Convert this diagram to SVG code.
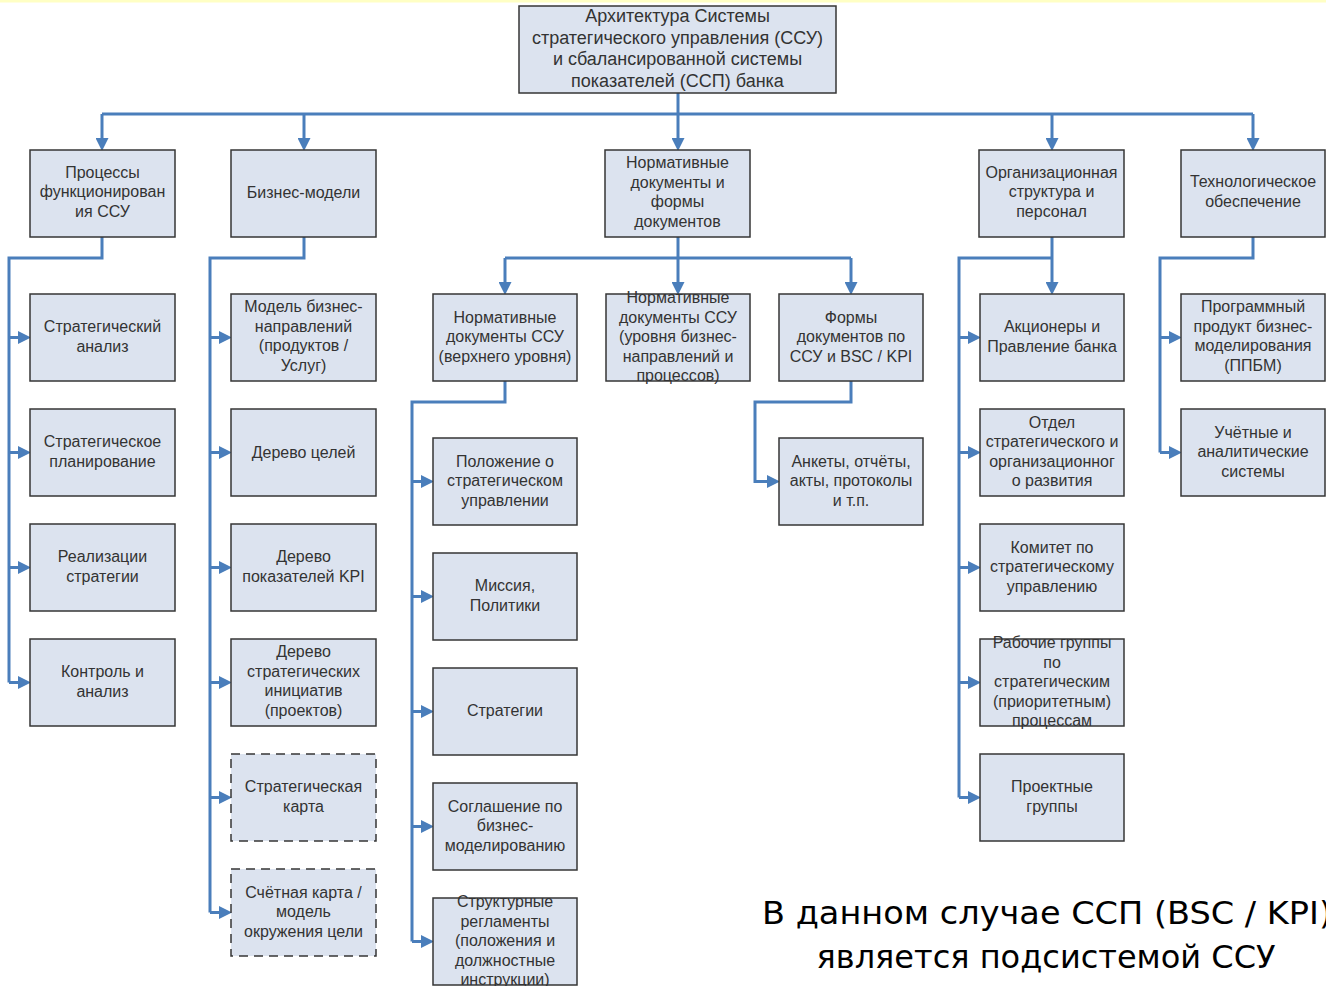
<svg xmlns="http://www.w3.org/2000/svg" width="1326" height="986" viewBox="0 0 1326 986">
  <style>
    .box { fill: #dce3ef; stroke: #363636; stroke-width: 1.5; }
    .dash { stroke-dasharray: 9 6; }
    .lbl { font-family: "Liberation Sans", Arial, sans-serif; font-size: 16px; fill: #333; text-anchor: middle; }
    .ttl { font-family: "Liberation Sans", Arial, sans-serif; font-size: 18px; fill: #333; text-anchor: middle; }
    .link { fill: none; stroke: #4a7ebb; stroke-width: 3; }
    .note { font-family: "DejaVu Sans", Tahoma, sans-serif; font-size: 32px; fill: #000; }
  </style>
  <defs>
    <marker id="arr" viewBox="0 0 13 13" refX="6" refY="6.5" markerWidth="13" markerHeight="13" markerUnits="userSpaceOnUse" orient="auto">
      <path d="M0,0 L13,6.5 L0,13 z" fill="#4a7ebb"/>
    </marker>
  </defs>

  <rect x="0" y="0" width="1326" height="986" fill="#fff"/>
  <rect x="0" y="0" width="1326" height="2.5" fill="#ffffc4"/>

  <!-- connectors -->
  <g id="connectors">
    <!-- top level bus -->
    <path class="link" d="M102 114 H1253"/>
    <path class="link" d="M678 93 V144" marker-end="url(#arr)"/>
    <path class="link" d="M102 114 V144" marker-end="url(#arr)"/>
    <path class="link" d="M304 114 V144" marker-end="url(#arr)"/>
    <path class="link" d="M1052 114 V144" marker-end="url(#arr)"/>
    <path class="link" d="M1253 114 V144" marker-end="url(#arr)"/>

    <!-- processes -->
    <path class="link" d="M102 237 V258 H9 V682.5"/>
    <path class="link" d="M9 337.5 H24" marker-end="url(#arr)"/>
    <path class="link" d="M9 452.5 H24" marker-end="url(#arr)"/>
    <path class="link" d="M9 567.5 H24" marker-end="url(#arr)"/>
    <path class="link" d="M9 682.5 H24" marker-end="url(#arr)"/>

    <!-- business models -->
    <path class="link" d="M304 237 V258 H210 V912.5"/>
    <path class="link" d="M210 337.5 H225" marker-end="url(#arr)"/>
    <path class="link" d="M210 452.5 H225" marker-end="url(#arr)"/>
    <path class="link" d="M210 567.5 H225" marker-end="url(#arr)"/>
    <path class="link" d="M210 682.5 H225" marker-end="url(#arr)"/>
    <path class="link" d="M210 797.5 H225" marker-end="url(#arr)"/>
    <path class="link" d="M210 912.5 H225" marker-end="url(#arr)"/>

    <!-- normative documents -->
    <path class="link" d="M678 237 V288" marker-end="url(#arr)"/>
    <path class="link" d="M505 258 H851"/>
    <path class="link" d="M505 258 V288" marker-end="url(#arr)"/>
    <path class="link" d="M851 258 V288" marker-end="url(#arr)"/>

    <path class="link" d="M505 381 V402 H412 V941.5"/>
    <path class="link" d="M412 481.5 H427" marker-end="url(#arr)"/>
    <path class="link" d="M412 596.5 H427" marker-end="url(#arr)"/>
    <path class="link" d="M412 711.5 H427" marker-end="url(#arr)"/>
    <path class="link" d="M412 826.5 H427" marker-end="url(#arr)"/>
    <path class="link" d="M412 941.5 H427" marker-end="url(#arr)"/>

    <path class="link" d="M851 381 V402 H755 V481.5 H773" marker-end="url(#arr)"/>

    <!-- organisation -->
    <path class="link" d="M1052 237 V288" marker-end="url(#arr)"/>
    <path class="link" d="M1052 258 H959 V797.5"/>
    <path class="link" d="M959 337.5 H974" marker-end="url(#arr)"/>
    <path class="link" d="M959 452.5 H974" marker-end="url(#arr)"/>
    <path class="link" d="M959 567.5 H974" marker-end="url(#arr)"/>
    <path class="link" d="M959 682.5 H974" marker-end="url(#arr)"/>
    <path class="link" d="M959 797.5 H974" marker-end="url(#arr)"/>

    <!-- technology -->
    <path class="link" d="M1253 237 V258 H1160 V452.5"/>
    <path class="link" d="M1160 337.5 H1175" marker-end="url(#arr)"/>
    <path class="link" d="M1160 452.5 H1175" marker-end="url(#arr)"/>
  </g>

  <!-- root -->
  <g id="n-root">
    <rect class="box" x="519" y="6" width="317" height="87"/>
    <text class="ttl" x="677.5" y="22">Архитектура Системы<tspan x="677.5" dy="21.6">стратегического управления (ССУ)</tspan><tspan x="677.5" dy="21.6">и сбалансированной системы</tspan><tspan x="677.5" dy="21.6">показателей (ССП) банка</tspan></text>
  </g>

  <!-- first level -->
  <g id="n-processes">
    <rect class="box" x="30" y="150" width="145" height="87"/>
    <text class="lbl" x="102.5" y="177.5">Процессы<tspan x="102.5" dy="19.5">функционирован</tspan><tspan x="102.5" dy="19.5">ия ССУ</tspan></text>
  </g>
  <g id="n-business-models">
    <rect class="box" x="231" y="150" width="145" height="87"/>
    <text class="lbl" x="303.5" y="197.5">Бизнес-модели</text>
  </g>
  <g id="n-normative">
    <rect class="box" x="605" y="150" width="145" height="87"/>
    <text class="lbl" x="677.5" y="168">Нормативные<tspan x="677.5" dy="19.5">документы и</tspan><tspan x="677.5" dy="19.5">формы</tspan><tspan x="677.5" dy="19.5">документов</tspan></text>
  </g>
  <g id="n-organisation">
    <rect class="box" x="979" y="150" width="145" height="87"/>
    <text class="lbl" x="1051.5" y="177.5">Организационная<tspan x="1051.5" dy="19.5">структура и</tspan><tspan x="1051.5" dy="19.5">персонал</tspan></text>
  </g>
  <g id="n-technology">
    <rect class="box" x="1181" y="150" width="144" height="87"/>
    <text class="lbl" x="1253" y="187">Технологическое<tspan x="1253" dy="19.5">обеспечение</tspan></text>
  </g>

  <!-- processes children -->
  <g id="n-strat-analysis">
    <rect class="box" x="30" y="294" width="145" height="87"/>
    <text class="lbl" x="102.5" y="332">Стратегический<tspan x="102.5" dy="19.5">анализ</tspan></text>
  </g>
  <g id="n-strat-planning">
    <rect class="box" x="30" y="409" width="145" height="87"/>
    <text class="lbl" x="102.5" y="447">Стратегическое<tspan x="102.5" dy="19.5">планирование</tspan></text>
  </g>
  <g id="n-strat-impl">
    <rect class="box" x="30" y="524" width="145" height="87"/>
    <text class="lbl" x="102.5" y="562">Реализации<tspan x="102.5" dy="19.5">стратегии</tspan></text>
  </g>
  <g id="n-control">
    <rect class="box" x="30" y="639" width="145" height="87"/>
    <text class="lbl" x="102.5" y="677">Контроль и<tspan x="102.5" dy="19.5">анализ</tspan></text>
  </g>

  <!-- business model children -->
  <g id="n-bm-directions">
    <rect class="box" x="231" y="294" width="145" height="87"/>
    <text class="lbl" x="303.5" y="312">Модель бизнес-<tspan x="303.5" dy="19.5">направлений</tspan><tspan x="303.5" dy="19.5">(продуктов /</tspan><tspan x="303.5" dy="19.5">Услуг)</tspan></text>
  </g>
  <g id="n-goal-tree">
    <rect class="box" x="231" y="409" width="145" height="87"/>
    <text class="lbl" x="303.5" y="457.5">Дерево целей</text>
  </g>
  <g id="n-kpi-tree">
    <rect class="box" x="231" y="524" width="145" height="87"/>
    <text class="lbl" x="303.5" y="562">Дерево<tspan x="303.5" dy="19.5">показателей KPI</tspan></text>
  </g>
  <g id="n-initiatives-tree">
    <rect class="box" x="231" y="639" width="145" height="87"/>
    <text class="lbl" x="303.5" y="657">Дерево<tspan x="303.5" dy="19.5">стратегических</tspan><tspan x="303.5" dy="19.5">инициатив</tspan><tspan x="303.5" dy="19.5">(проектов)</tspan></text>
  </g>
  <g id="n-strat-map">
    <rect class="box dash" x="231" y="754" width="145" height="87"/>
    <text class="lbl" x="303.5" y="792">Стратегическая<tspan x="303.5" dy="19.5">карта</tspan></text>
  </g>
  <g id="n-scorecard">
    <rect class="box dash" x="231" y="869" width="145" height="87"/>
    <text class="lbl" x="303.5" y="897.5">Счётная карта /<tspan x="303.5" dy="19.5">модель</tspan><tspan x="303.5" dy="19.5">окружения цели</tspan></text>
  </g>

  <!-- normative documents children -->
  <g id="n-norm-top">
    <rect class="box" x="433" y="294" width="144" height="87"/>
    <text class="lbl" x="505" y="322.5">Нормативные<tspan x="505" dy="19.5">документы ССУ</tspan><tspan x="505" dy="19.5">(верхнего уровня)</tspan></text>
  </g>
  <g id="n-norm-business">
    <rect class="box" x="606" y="294" width="144" height="87"/>
    <text class="lbl" x="678" y="303">Нормативные<tspan x="678" dy="19.5">документы ССУ</tspan><tspan x="678" dy="19.5">(уровня бизнес-</tspan><tspan x="678" dy="19.5">направлений и</tspan><tspan x="678" dy="19.5">процессов)</tspan></text>
  </g>
  <g id="n-forms">
    <rect class="box" x="779" y="294" width="144" height="87"/>
    <text class="lbl" x="851" y="322.5">Формы<tspan x="851" dy="19.5">документов по</tspan><tspan x="851" dy="19.5">ССУ и BSC / KPI</tspan></text>
  </g>

  <g id="n-regulation">
    <rect class="box" x="433" y="438" width="144" height="87"/>
    <text class="lbl" x="505" y="466.5">Положение о<tspan x="505" dy="19.5">стратегическом</tspan><tspan x="505" dy="19.5">управлении</tspan></text>
  </g>
  <g id="n-mission">
    <rect class="box" x="433" y="553" width="144" height="87"/>
    <text class="lbl" x="505" y="591">Миссия,<tspan x="505" dy="19.5">Политики</tspan></text>
  </g>
  <g id="n-strategies">
    <rect class="box" x="433" y="668" width="144" height="87"/>
    <text class="lbl" x="505" y="716">Стратегии</text>
  </g>
  <g id="n-agreement">
    <rect class="box" x="433" y="783" width="144" height="87"/>
    <text class="lbl" x="505" y="811.5">Соглашение по<tspan x="505" dy="19.5">бизнес-</tspan><tspan x="505" dy="19.5">моделированию</tspan></text>
  </g>
  <g id="n-structural">
    <rect class="box" x="433" y="898" width="144" height="87"/>
    <text class="lbl" x="505" y="907">Структурные<tspan x="505" dy="19.5">регламенты</tspan><tspan x="505" dy="19.5">(положения и</tspan><tspan x="505" dy="19.5">должностные</tspan><tspan x="505" dy="19.5">инструкции)</tspan></text>
  </g>

  <g id="n-reports">
    <rect class="box" x="779" y="438" width="144" height="87"/>
    <text class="lbl" x="851" y="466.5">Анкеты, отчёты,<tspan x="851" dy="19.5">акты, протоколы</tspan><tspan x="851" dy="19.5">и т.п.</tspan></text>
  </g>

  <!-- organisation children -->
  <g id="n-shareholders">
    <rect class="box" x="980" y="294" width="144" height="87"/>
    <text class="lbl" x="1052" y="332">Акционеры и<tspan x="1052" dy="19.5">Правление банка</tspan></text>
  </g>
  <g id="n-dept">
    <rect class="box" x="980" y="409" width="144" height="87"/>
    <text class="lbl" x="1052" y="427.5">Отдел<tspan x="1052" dy="19.5">стратегического и</tspan><tspan x="1052" dy="19.5">организационног</tspan><tspan x="1052" dy="19.5">о развития</tspan></text>
  </g>
  <g id="n-committee">
    <rect class="box" x="980" y="524" width="144" height="87"/>
    <text class="lbl" x="1052" y="552.5">Комитет по<tspan x="1052" dy="19.5">стратегическому</tspan><tspan x="1052" dy="19.5">управлению</tspan></text>
  </g>
  <g id="n-workgroups">
    <rect class="box" x="980" y="639" width="144" height="87"/>
    <text class="lbl" x="1052" y="648">Рабочие группы<tspan x="1052" dy="19.5">по</tspan><tspan x="1052" dy="19.5">стратегическим</tspan><tspan x="1052" dy="19.5">(приоритетным)</tspan><tspan x="1052" dy="19.5">процессам</tspan></text>
  </g>
  <g id="n-project-groups">
    <rect class="box" x="980" y="754" width="144" height="87"/>
    <text class="lbl" x="1052" y="792">Проектные<tspan x="1052" dy="19.5">группы</tspan></text>
  </g>

  <!-- technology children -->
  <g id="n-software">
    <rect class="box" x="1181" y="294" width="144" height="87"/>
    <text class="lbl" x="1253" y="312">Программный<tspan x="1253" dy="19.5">продукт бизнес-</tspan><tspan x="1253" dy="19.5">моделирования</tspan><tspan x="1253" dy="19.5">(ППБМ)</tspan></text>
  </g>
  <g id="n-accounting">
    <rect class="box" x="1181" y="409" width="144" height="87"/>
    <text class="lbl" x="1253" y="437.5">Учётные и<tspan x="1253" dy="19.5">аналитические</tspan><tspan x="1253" dy="19.5">системы</tspan></text>
  </g>

  <!-- note -->
  <text class="note" x="762" y="924" textLength="570" lengthAdjust="spacingAndGlyphs">В данном случае ССП (BSC / KPI)</text>
  <text class="note" x="1046" y="968" text-anchor="middle">является подсистемой ССУ</text>
</svg>
